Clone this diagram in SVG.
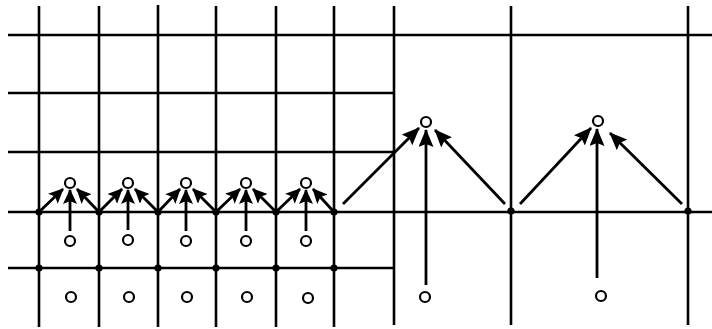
<svg xmlns="http://www.w3.org/2000/svg" width="712" height="329" viewBox="0 0 712 329">
  <style>
    .grid { stroke: #000; stroke-width: 2.6; fill: none; stroke-linecap: butt; }
    .node { fill: #000; }
    .pt { fill: #fff; stroke: #000; stroke-width: 2.2; }
    .arr { stroke: #000; stroke-width: 2.8; fill: none; }
    .sm { marker-end: url(#headS); }
    .lg { marker-end: url(#headL); }
  </style>
  <defs>
    <marker id="headS" markerUnits="userSpaceOnUse" markerWidth="15" markerHeight="14" refX="14" refY="7" orient="auto" viewBox="0 0 15 14">
      <path d="M0,0 L15,7 L0,14 L3,7 Z" fill="#000"/>
    </marker>
    <marker id="headL" markerUnits="userSpaceOnUse" markerWidth="18" markerHeight="15" refX="17" refY="7.5" orient="auto" viewBox="0 0 18 15">
      <path d="M0,0 L18,7.5 L0,15 L3,7.5 Z" fill="#000"/>
    </marker>
  </defs>

  <!-- grid lines -->
  <g id="grid">
    <line class="grid" x1="8" y1="35" x2="712" y2="35"/>
    <line class="grid" x1="8" y1="93" x2="394" y2="93"/>
    <line class="grid" x1="8" y1="152" x2="394" y2="152"/>
    <line class="grid" x1="8" y1="212" x2="712" y2="212"/>
    <line class="grid" x1="8" y1="268" x2="394" y2="268"/>
    <line class="grid" x1="39" y1="6" x2="39" y2="327"/>
    <line class="grid" x1="99" y1="6" x2="99" y2="327"/>
    <line class="grid" x1="158" y1="5" x2="158" y2="327"/>
    <line class="grid" x1="216" y1="6" x2="216" y2="327"/>
    <line class="grid" x1="276" y1="6" x2="276" y2="327"/>
    <line class="grid" x1="334" y1="6" x2="334" y2="327"/>
    <line class="grid" x1="394" y1="6" x2="394" y2="325"/>
    <line class="grid" x1="511" y1="6" x2="511" y2="325"/>
    <line class="grid" x1="688" y1="6" x2="688" y2="325"/>
  </g>

  <!-- connectors -->
  <g id="connectors">
    <!-- fine cells -->
    <line class="arr sm" x1="39" y1="212" x2="63" y2="189"/>
    <line class="arr sm" x1="99" y1="212" x2="77" y2="189"/>
    <line class="arr sm" x1="70" y1="231" x2="70" y2="190"/>
    <line class="arr sm" x1="99" y1="212" x2="122" y2="189"/>
    <line class="arr sm" x1="158" y1="212" x2="135" y2="189"/>
    <line class="arr sm" x1="128" y1="230" x2="128" y2="190"/>
    <line class="arr sm" x1="158" y1="212" x2="180" y2="189"/>
    <line class="arr sm" x1="216" y1="212" x2="193" y2="189"/>
    <line class="arr sm" x1="186" y1="231" x2="186" y2="190"/>
    <line class="arr sm" x1="216" y1="212" x2="240" y2="189"/>
    <line class="arr sm" x1="276" y1="212" x2="253" y2="189"/>
    <line class="arr sm" x1="246" y1="231" x2="246" y2="190"/>
    <line class="arr sm" x1="276" y1="212" x2="300" y2="189"/>
    <line class="arr sm" x1="334" y1="212" x2="313" y2="189"/>
    <line class="arr sm" x1="306" y1="231" x2="306" y2="190"/>
    <!-- coarse cells -->
    <line class="arr lg" x1="343" y1="204" x2="419" y2="128"/>
    <line class="arr lg" x1="505" y1="204" x2="435" y2="130"/>
    <line class="arr lg" x1="426" y1="285" x2="426" y2="130"/>
    <line class="arr lg" x1="520" y1="204" x2="591" y2="128"/>
    <line class="arr lg" x1="682" y1="204" x2="610" y2="133"/>
    <line class="arr lg" x1="597" y1="278" x2="597" y2="129"/>
  </g>

  <!-- lattice nodes -->
  <g id="nodes">
    <circle class="node" cx="39" cy="212" r="3.6"/>
    <circle class="node" cx="99" cy="212" r="3.6"/>
    <circle class="node" cx="158" cy="212" r="3.6"/>
    <circle class="node" cx="216" cy="212" r="3.6"/>
    <circle class="node" cx="276" cy="212" r="3.6"/>
    <circle class="node" cx="334" cy="212" r="3.6"/>
    <circle class="node" cx="511" cy="211" r="3.6"/>
    <circle class="node" cx="688" cy="211" r="3.6"/>
    <circle class="node" cx="39" cy="268" r="3.6"/>
    <circle class="node" cx="99" cy="268" r="3.6"/>
    <circle class="node" cx="158" cy="268" r="3.6"/>
    <circle class="node" cx="216" cy="268" r="3.6"/>
    <circle class="node" cx="276" cy="268" r="3.6"/>
    <circle class="node" cx="334" cy="268" r="3.6"/>
  </g>

  <!-- cell points -->
  <g id="points">
    <circle class="pt" cx="70" cy="183" r="5"/>
    <circle class="pt" cx="128" cy="183" r="5"/>
    <circle class="pt" cx="186" cy="183" r="5"/>
    <circle class="pt" cx="246" cy="183" r="5"/>
    <circle class="pt" cx="306" cy="183" r="5"/>
    <circle class="pt" cx="70" cy="241" r="5"/>
    <circle class="pt" cx="128" cy="240" r="5"/>
    <circle class="pt" cx="186" cy="241" r="5"/>
    <circle class="pt" cx="246" cy="241" r="5"/>
    <circle class="pt" cx="306" cy="241" r="5"/>
    <circle class="pt" cx="71" cy="297" r="5"/>
    <circle class="pt" cx="129" cy="297" r="5"/>
    <circle class="pt" cx="187" cy="297" r="5"/>
    <circle class="pt" cx="247" cy="297" r="5"/>
    <circle class="pt" cx="308" cy="298" r="5"/>
    <circle class="pt" cx="426" cy="122" r="5"/>
    <circle class="pt" cx="598" cy="121" r="5"/>
    <circle class="pt" cx="425" cy="297" r="5"/>
    <circle class="pt" cx="601" cy="296" r="5"/>
  </g>
</svg>
